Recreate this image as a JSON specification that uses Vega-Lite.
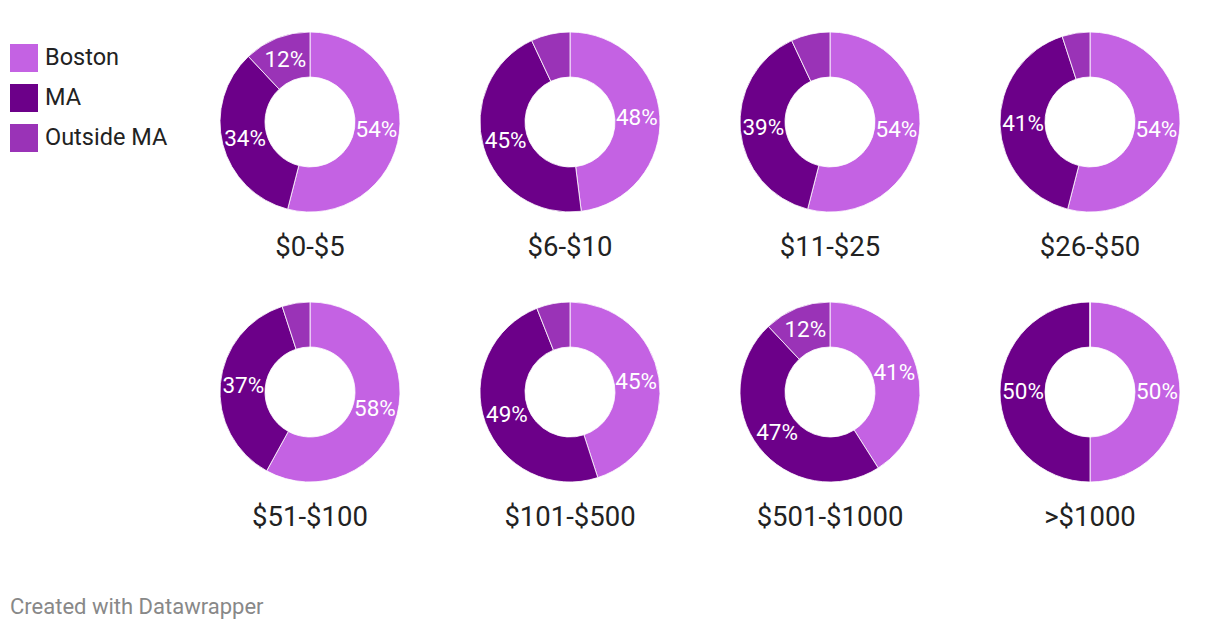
{
  "$schema": "https://vega.github.io/schema/vega-lite/v6.json",
  "padding": {"left": 10, "top": 30, "right": 5, "bottom": 5},
  "background": "white",
  "config": {"view": {"stroke": null}, "font": "Roboto"},
  "title": {"text": "Created with Datawrapper", "orient": "bottom", "anchor": "start", "frame": "bounds", "fontSize": 22, "fontWeight": "normal", "color": "#888888", "font": "Roboto", "offset": 66},
  "data": {"values": [
    {"range": "$0-$5", "region": "Boston", "share": 0.54},
    {"range": "$0-$5", "region": "MA", "share": 0.34},
    {"range": "$0-$5", "region": "Outside MA", "share": 0.12},
    {"range": "$6-$10", "region": "Boston", "share": 0.48},
    {"range": "$6-$10", "region": "MA", "share": 0.45},
    {"range": "$6-$10", "region": "Outside MA", "share": 0.07},
    {"range": "$11-$25", "region": "Boston", "share": 0.54},
    {"range": "$11-$25", "region": "MA", "share": 0.39},
    {"range": "$11-$25", "region": "Outside MA", "share": 0.07},
    {"range": "$26-$50", "region": "Boston", "share": 0.54},
    {"range": "$26-$50", "region": "MA", "share": 0.41},
    {"range": "$26-$50", "region": "Outside MA", "share": 0.05},
    {"range": "$51-$100", "region": "Boston", "share": 0.58},
    {"range": "$51-$100", "region": "MA", "share": 0.37},
    {"range": "$51-$100", "region": "Outside MA", "share": 0.05},
    {"range": "$101-$500", "region": "Boston", "share": 0.45},
    {"range": "$101-$500", "region": "MA", "share": 0.49},
    {"range": "$101-$500", "region": "Outside MA", "share": 0.06},
    {"range": "$501-$1000", "region": "Boston", "share": 0.41},
    {"range": "$501-$1000", "region": "MA", "share": 0.47},
    {"range": "$501-$1000", "region": "Outside MA", "share": 0.12},
    {"range": ">$1000", "region": "Boston", "share": 0.50},
    {"range": ">$1000", "region": "MA", "share": 0.50},
    {"range": ">$1000", "region": "Outside MA", "share": 0.0}
  ]},
  "facet": {
    "field": "range",
    "type": "nominal",
    "sort": ["$0-$5", "$6-$10", "$11-$25", "$26-$50", "$51-$100", "$101-$500", "$501-$1000", ">$1000"],
    "header": {"title": null, "labelOrient": "bottom", "labelPadding": 20, "labelFontSize": 27.5, "labelFont": "Roboto", "labelColor": "#222222"}
  },
  "columns": 4,
  "spacing": {"column": 76, "row": 38},
  "spec": {
    "width": 180,
    "height": 180,
    "layer": [
      {
        "mark": {"type": "arc", "outerRadius": 90, "innerRadius": 45, "stroke": "white", "strokeWidth": 0.8},
        "encoding": {
          "theta": {"field": "share", "type": "quantitative", "stack": true},
          "order": {"field": "region", "sort": "ascending"},
          "color": {
            "field": "region", "type": "nominal",
            "scale": {"domain": ["Boston", "MA", "Outside MA"], "range": ["#c462e3", "#6c0089", "#9a33b7"]},
            "legend": {"title": null, "orient": "none", "legendX": -210, "legendY": 12, "symbolType": "square", "symbolSize": 784, "symbolStrokeWidth": 0, "labelFontSize": 23.5, "labelFont": "Roboto", "labelColor": "#222222", "rowPadding": 12, "labelOffset": 7, "padding": 0}
          }
        }
      },
      {
        "mark": {"type": "text", "radius": 67, "fontSize": 22.5, "font": "Roboto", "fill": "white"},
        "encoding": {
          "theta": {"field": "share", "type": "quantitative", "stack": true},
          "order": {"field": "region", "sort": "ascending"},
          "text": {"condition": {"test": "datum.share >= 0.1", "field": "share", "type": "quantitative", "format": ".0%"}, "value": ""}
        }
      }
    ]
  }
}
